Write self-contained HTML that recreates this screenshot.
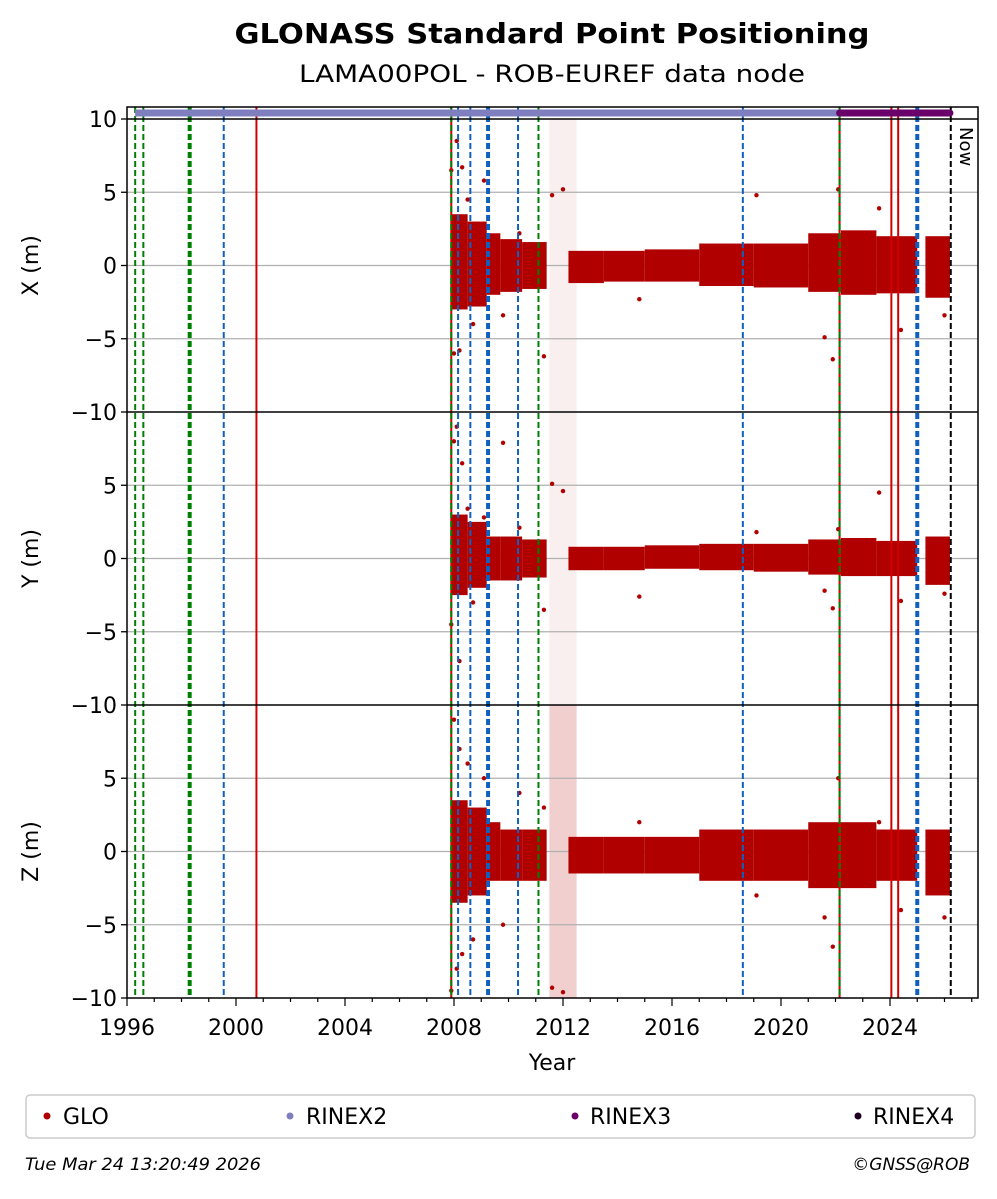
<!DOCTYPE html>
<html><head><meta charset="utf-8"><style>
body{margin:0;background:#fff;font-family:"Liberation Sans","DejaVu Sans",sans-serif}
svg text{font-family:"DejaVu Sans","Liberation Sans",sans-serif}
</style></head><body>
<svg id="chart" width="997" height="1194" xmlns="http://www.w3.org/2000/svg">
<text x="552" y="43" text-anchor="middle" font-size="28" font-weight="bold" textLength="635" lengthAdjust="spacingAndGlyphs">GLONASS Standard Point Positioning</text>
<text x="552" y="82" text-anchor="middle" font-size="24" textLength="506" lengthAdjust="spacingAndGlyphs">LAMA00POL - ROB-EUREF data node</text>
<g id="plot"></g>
<text x="552" y="1070" text-anchor="middle" font-size="22">Year</text>
<g>
<rect x="26" y="1095" width="949" height="43" rx="4" fill="#fff" stroke="#ccc" stroke-width="1.5"/>
<circle cx="47" cy="1116" r="3.5" fill="#b00000"/><text x="63" y="1124" font-size="22">GLO</text>
<circle cx="290" cy="1116" r="3.5" fill="#7f7fbf"/><text x="306" y="1124" font-size="22">RINEX2</text>
<circle cx="575" cy="1116" r="3.5" fill="#6a006a"/><text x="590" y="1124" font-size="22">RINEX3</text>
<circle cx="858" cy="1116" r="3.5" fill="#200020"/><text x="873" y="1124" font-size="22">RINEX4</text>
</g>
<text x="25" y="1170" font-size="17" font-style="italic" textLength="236" lengthAdjust="spacingAndGlyphs">Tue Mar 24 13:20:49 2026</text>
<text x="970" y="1170" font-size="17" font-style="italic" text-anchor="end">©GNSS@ROB</text>
</svg>
<script>
const panels=["X (m)","Y (m)","Z (m)"];
const binStart=[2007.9,2008.5,2009.2,2009.7,2010.5,2012.2,2013.5,2015,2017,2019,2021,2022.2,2023.5,2025.3];
const binEnd  =[2008.5,2009.2,2009.7,2010.5,2011.4,2013.5,2015,2017,2019,2021,2022.2,2023.5,2025.0,2026.2];
const xLo=[-3,-2.8,-2,-1.8,-1.6,-1.2,-1.1,-1.1,-1.4,-1.5,-1.8,-2,-1.9,-2.2];
const xHi=[3.5,3,2.2,1.8,1.6,1.0,1.0,1.1,1.5,1.5,2.2,2.4,2,2];
const yLo=[-2.5,-2,-1.5,-1.5,-1.3,-0.8,-0.8,-0.7,-0.8,-0.9,-1.1,-1.2,-1.2,-1.8];
const yHi=[3,2.5,1.5,1.5,1.3,0.8,0.8,0.9,1,1,1.3,1.4,1.2,1.5];
const zLo=[-3.5,-3,-2,-2,-2,-1.5,-1.5,-1.5,-2,-2,-2.5,-2.5,-2,-3];
const zHi=[3.5,3,2,1.5,1.5,1,1,1,1.5,1.5,2,2,1.5,1.5];
const outT=[2007.9,2008,2008.1,2008.2,2008.3,2008.5,2008.7,2009.1,2009.8,2010.4,2011.3,2011.6,2012.0,2014.8,2019.1,2021.6,2021.9,2022.1,2023.6,2024.4,2026.0];
const outX=[6.5,-6,8.5,-5.8,6.7,4.5,-4,5.8,-3.4,2.2,-6.2,4.8,5.2,-2.3,4.8,-4.9,-6.4,5.2,3.9,-4.4,-3.4];
const outY=[-4.5,8,9,-7,6.5,3.4,-3,2.8,7.9,2.1,-3.5,5.1,4.6,-2.6,1.8,-2.2,-3.4,2,4.5,-2.9,-2.4];
const outZ=[-9.5,9,-8,7,-7,6,-6,5,-5,4,3,-9.3,-9.6,2,-3,-4.5,-6.5,5,2,-4,-4.5];
const vlines=[[1996.3,"#008000","d"],[1996.6,"#008000","d"],[1998.3,"#008000","D"],[1999.55,"#1060c0","d"],[2000.75,"#d00000","s"],[2007.9,"#d00000","s"],[2007.9,"#008000","d"],[2008.15,"#1060c0","d"],[2008.6,"#1060c0","d"],[2009.25,"#1060c0","D"],[2010.35,"#1060c0","d"],[2011.1,"#008000","d"],[2018.6,"#1060c0","d"],[2022.15,"#d00000","s"],[2022.15,"#008000","d"],[2024.05,"#d00000","s"],[2024.3,"#d00000","s"],[2025.0,"#1060c0","D"],[2026.23,"#000","d"]];
const xTicks=[1996,2000,2004,2008,2012,2016,2020,2024];
const L=127,R=978,T=107;
const xs=y=>L+(y-1996)*27.25;
const pTop=[119,412,705],pm=14.65;
const ys=(p,v)=>pTop[p]+146.5-v*pm;
const NS="http://www.w3.org/2000/svg",g=document.getElementById("plot");
function mk(t,a,par){const e=document.createElementNS(NS,t);for(const k in a)e.setAttribute(k,a[k]);(par||g).appendChild(e);return e;}
[[0,0.1],[1,0.1],[2,0.3]].forEach(([p,o])=>{const r=mk("rect",{x:xs(2011.5),y:pTop[p],width:xs(2012.5)-xs(2011.5),height:293,fill:"#d06060","fill-opacity":o});

});
for(let p=0;p<3;p++)[5,0,-5].forEach(v=>{const l=mk("line",{x1:L,x2:R,y1:ys(p,v),y2:ys(p,v),stroke:"#b0b0b0","stroke-width":1.3});

});
const los=[xLo,yLo,zLo],his=[xHi,yHi,zHi],outs=[outX,outY,outZ];
for(let p=0;p<3;p++){for(let i=0;i<binStart.length;i++){const r=mk("rect",{x:xs(binStart[i]),y:ys(p,his[p][i]),width:xs(binEnd[i])-xs(binStart[i]),height:(his[p][i]-los[p][i])*pm,fill:"#b00000"});

}
for(let i=0;i<outT.length;i++){const c=mk("circle",{cx:xs(outT[i]),cy:ys(p,outs[p][i]),r:2.2,fill:"#b00000"});

}}
vlines.forEach(([t,c,s])=>{const a={x1:xs(t),x2:xs(t),y1:T,y2:998,stroke:c,"stroke-width":s=="D"?4:2};if(s!="s")a["stroke-dasharray"]="6,3";const l=mk("line",a);

});
let rb=mk("line",{x1:xs(1996.3),x2:xs(2022.15),y1:113,y2:113,stroke:"#7f7fbf","stroke-width":7});

rb=mk("line",{x1:xs(2022.15),x2:xs(2026.2),y1:113,y2:113,stroke:"#6a006a","stroke-width":7,"stroke-linecap":"round"});

const nt=mk("text",{x:0,y:0,"font-size":18,transform:`translate(${xs(2026.23)+9},127) rotate(90)`});nt.textContent="Now";

mk("rect",{x:L,y:T,width:R-L,height:998-T,fill:"none",stroke:"#000","stroke-width":1.5});
[119,412,705].forEach(y=>mk("line",{x1:L,x2:R,y1:y,y2:y,stroke:"#000","stroke-width":1.5}));
for(let p=0;p<3;p++){const vals=p==0?[10,5,0,-5,-10]:[5,0,-5,-10];vals.forEach(v=>{const y=ys(p,v);mk("line",{x1:L-6,x2:L,y1:y,y2:y,stroke:"#000","stroke-width":1.3});const t=mk("text",{x:L-10,y:y+8,"text-anchor":"end","font-size":22});t.textContent=v<0?"\u2212"+(-v):v;
});
const lt=mk("text",{x:0,y:0,"font-size":22,"text-anchor":"middle",transform:`translate(38,${pTop[p]+146.5}) rotate(-90)`});lt.textContent=panels[p];
}
for(let yr=1996;yr<=2027;yr++)mk("line",{x1:xs(yr),x2:xs(yr),y1:998,y2:1002+(yr%4==0?4:0),stroke:"#000","stroke-width":1.2});
xTicks.forEach(yr=>{const t=mk("text",{x:xs(yr),y:1035,"text-anchor":"middle","font-size":22});t.textContent=yr;
});
</script>
</body></html>
